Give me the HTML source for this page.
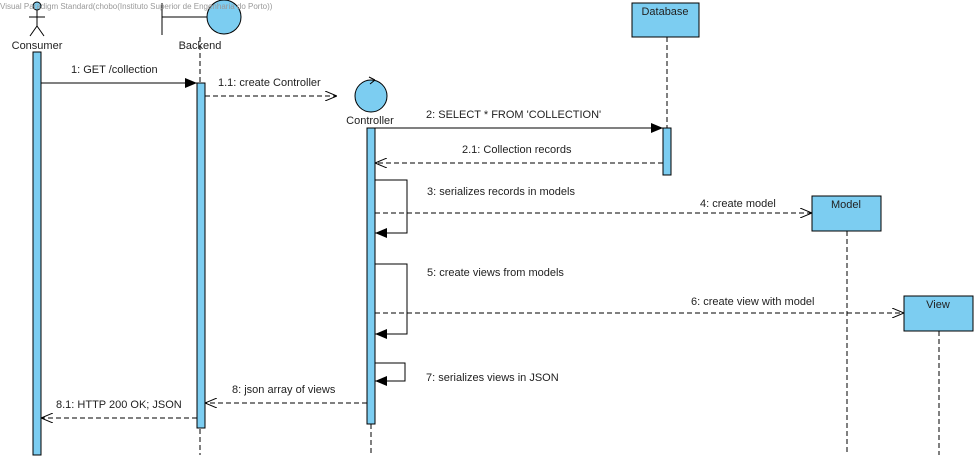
<!DOCTYPE html>
<html><head><meta charset="utf-8"><style>
html,body{margin:0;padding:0;background:#fff;}
svg{display:block;}
text{font-family:"Liberation Sans",sans-serif;font-size:11px;fill:#222;}
</style></head><body>
<svg width="978" height="460" viewBox="0 0 978 460" xmlns="http://www.w3.org/2000/svg">
<defs>
<marker id="f" markerWidth="12" markerHeight="10" refX="12" refY="5" orient="auto" markerUnits="userSpaceOnUse"><path d="M0,0 L12,5 L0,10 Z" fill="#000"/></marker>
<marker id="o" markerWidth="12" markerHeight="10" refX="12" refY="5" orient="auto" markerUnits="userSpaceOnUse"><path d="M0,0 L12,5 L0,10" fill="none" stroke="#000"/></marker>
</defs>
<g stroke="#000" stroke-width="1" fill="none" stroke-dasharray="5,3">
<line x1="200" y1="37" x2="200" y2="455"/>
<line x1="371" y1="128" x2="371" y2="455"/>
<line x1="667" y1="37" x2="667" y2="128"/>
<line x1="847" y1="231" x2="847" y2="455"/>
<line x1="939" y1="331" x2="939" y2="455"/>
</g>
<!-- actor -->
<g stroke="#000" fill="none">
<circle cx="37" cy="6" r="4" fill="#7ccdf1"/>
<line x1="37" y1="10" x2="37" y2="26"/>
<line x1="29" y1="17" x2="45" y2="17"/>
<line x1="37" y1="26" x2="30" y2="36"/>
<line x1="37" y1="26" x2="44" y2="36"/>
</g>
<text x="37" y="49" text-anchor="middle">Consumer</text>
<!-- boundary -->
<g stroke="#000">
<line x1="162" y1="3" x2="162" y2="35"/>
<line x1="162" y1="17" x2="207" y2="17"/>
<circle cx="224" cy="17" r="17" fill="#7ccdf1"/>
</g>
<text x="200" y="49" text-anchor="middle">Backend</text>
<text x="0" y="9" style="font-size:8px;fill:#999">Visual Paradigm Standard(chobo(Instituto Superior de Engenharia do Porto))</text>
<!-- controller -->
<g stroke="#000">
<circle cx="371" cy="96" r="16" fill="#7ccdf1"/>
<path d="M375,80 L369,77 M375,80 L370,84" fill="none"/>
</g>
<text x="370" y="124" text-anchor="middle">Controller</text>
<!-- boxes -->
<g stroke="#000" fill="#7ccdf1">
<rect x="632" y="3" width="67" height="34"/>
<rect x="812" y="196" width="69" height="35"/>
<rect x="904" y="296" width="69" height="35"/>
</g>
<text x="665" y="15" text-anchor="middle">Database</text>
<text x="846" y="208" text-anchor="middle">Model</text>
<text x="938" y="308" text-anchor="middle">View</text>
<!-- activations -->
<g stroke="#000" fill="#7ccdf1">
<rect x="33" y="52" width="8" height="403"/>
<rect x="197" y="83" width="8" height="345"/>
<rect x="367" y="128" width="8" height="296"/>
<rect x="663" y="128" width="8" height="47"/>
</g>
<!-- messages -->
<g stroke="#000" fill="none">
<line x1="41" y1="83" x2="197" y2="83" marker-end="url(#f)"/>
<line x1="205" y1="96" x2="337" y2="96" stroke-dasharray="5,3" marker-end="url(#o)"/>
<line x1="375" y1="128" x2="663" y2="128" marker-end="url(#f)"/>
<line x1="663" y1="163" x2="375" y2="163" stroke-dasharray="5,3" marker-end="url(#o)"/>
<polyline points="375,180 407,180 407,233 375,233" marker-end="url(#f)"/>
<line x1="375" y1="213" x2="812" y2="213" stroke-dasharray="5,3" marker-end="url(#o)"/>
<polyline points="375,264 407,264 407,334 375,334" marker-end="url(#f)"/>
<line x1="375" y1="313" x2="904" y2="313" stroke-dasharray="5,3" marker-end="url(#o)"/>
<polyline points="375,363 405,363 405,381 375,381" marker-end="url(#f)"/>
<line x1="367" y1="403" x2="205" y2="403" stroke-dasharray="5,3" marker-end="url(#o)"/>
<line x1="197" y1="418" x2="41" y2="418" stroke-dasharray="5,3" marker-end="url(#o)"/>
</g>
<text x="71" y="73">1: GET /collection</text>
<text x="218" y="86">1.1: create Controller</text>
<text x="426" y="118">2: SELECT * FROM 'COLLECTION'</text>
<text x="462" y="153">2.1: Collection records</text>
<text x="427" y="195">3: serializes records in models</text>
<text x="700" y="207">4: create model</text>
<text x="427" y="276">5: create views from models</text>
<text x="691" y="305">6: create view with model</text>
<text x="426" y="381">7: serializes views in JSON</text>
<text x="232" y="393">8: json array of views</text>
<text x="56" y="408">8.1: HTTP 200 OK; JSON</text>
</svg>
</body></html>
